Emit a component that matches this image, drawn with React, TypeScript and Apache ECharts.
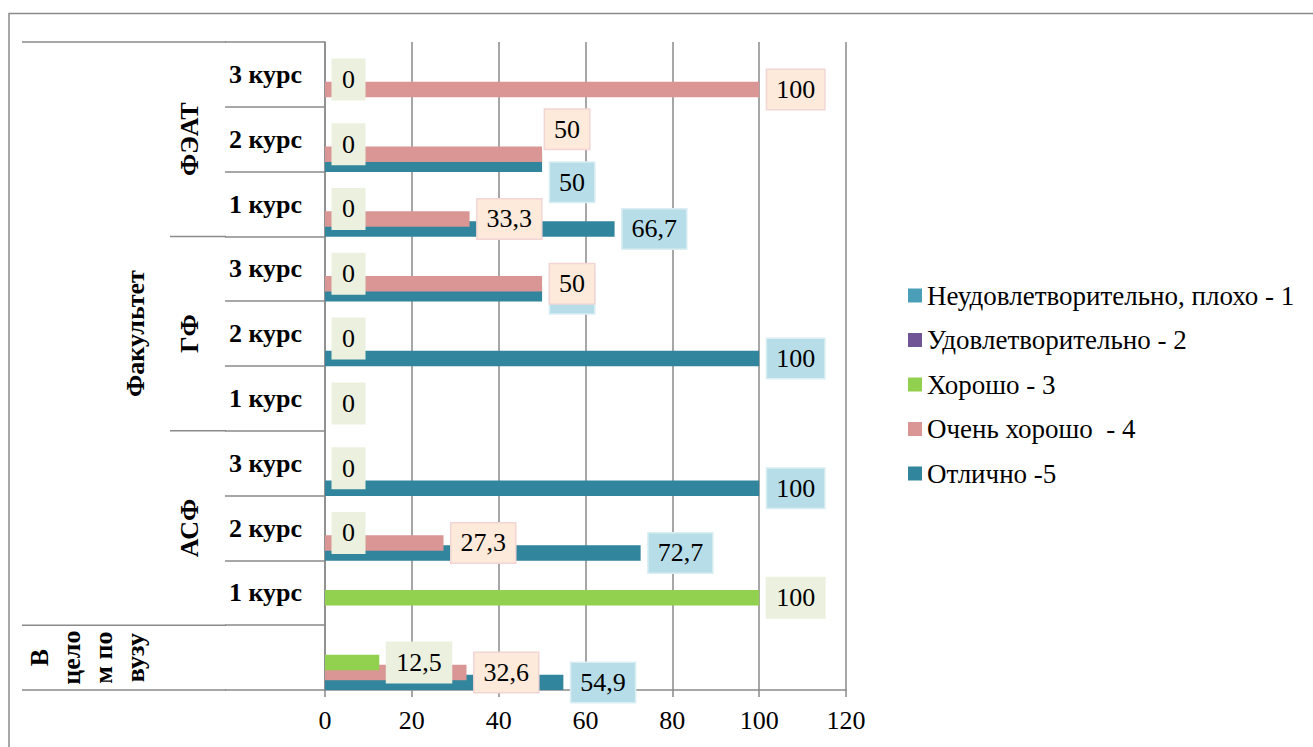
import React, { useEffect, useRef } from 'react';
import * as echarts from 'echarts';

// ---------- data ----------
const facultyNames = ['АСФ', 'ГФ', 'ФЭАТ'];
const courseNames = ['1 курс', '2 курс', '3 курс'];
const overallName = 'В целом по вузу';
const overallWrapped = ['В', 'цело', 'м по', 'вузу'];
const levelTitle = 'Факультет';
const categories = [overallName, ...facultyNames.flatMap((f) => courseNames.map((c) => `${f}|${c}`))];

const seriesNames = [
  'Неудовлетворительно, плохо - 1',
  'Удовлетворительно - 2',
  'Хорошо - 3',
  'Очень хорошо  - 4',
  'Отлично -5',
];

const unsatisfactory: (number | null)[] = [null, null, null, null, null, null, null, null, null, null];
const satisfactory: (number | null)[] = [null, null, null, null, null, null, null, null, null, null];
const good: (number | null)[] = [12.5, 100, 0, 0, 0, 0, 0, 0, 0, 0];
const veryGood: (number | null)[] = [32.6, null, 27.3, null, null, null, 50, 33.3, 50, 100];
const excellent: (number | null)[] = [54.9, null, 72.7, 100, null, 100, 50, 66.7, 50, null];

const xTicks = { min: 0, max: 120, interval: 20 };

// label nudges (layout only), keyed by series index then category index
const labelNudges: Record<number, Record<number, [number, number]>> = {
  3: { 8: [-5, -25] },
  4: { 8: [0, 18] },
};

const seriesColors = ['#4B9EB7', '#705496', '#92D050', '#D99694', '#31859C'];
const labelBg = ['#B7DEE8', '#E5DFEC', '#EBF1DE', '#FDEADA', '#B7DEE8'];
const labelBorder = ['#DAEEF3', '#E5DFEC', '#EBF1DE', '#F2D5D4', '#DAEEF3'];
const seriesZ = [2, 2, 4, 3, 2];

export default function App() {
  const ref = useRef<HTMLDivElement>(null);
  useEffect(() => {
    const chart = echarts.init(ref.current!, null, { renderer: 'svg' });
    const FONT = 'Liberation Serif';
    const GRAY = '#8a8a8a';
    const BAR_W = 15.5;
    const BAR_GAP = '-35.5%';
    const allValues = [unsatisfactory, satisfactory, good, veryGood, excellent];

    const series: any[] = [
      {
        name: '__pad',
        type: 'bar',
        data: categories.map(() => null),
        barWidth: BAR_W,
        barGap: BAR_GAP,
        silent: true,
      },
    ];
    allValues.forEach((vals, si) => {
      series.push({
        name: seriesNames[si],
        type: 'bar',
        z: seriesZ[si],
        barWidth: BAR_W,
        barGap: BAR_GAP,
        itemStyle: { color: seriesColors[si] },
        label: {
          show: true,
          position: 'right',
          distance: 8,
          fontFamily: FONT,
          fontSize: 26,
          lineHeight: 27,
          color: '#000',
          backgroundColor: labelBg[si],
          borderColor: labelBorder[si],
          borderWidth: 1.5,
          padding: [6, 9, 6, 9],
          formatter: (p: any) => String(p.value).replace('.', ','),
        },
        data: vals.map((v, i) => {
          const n = labelNudges[si]?.[i];
          return n ? { value: v, label: { offset: n } } : v;
        }),
      });
    });

    chart.setOption({
      animation: false,
      textStyle: { fontFamily: FONT },
      grid: { left: 325, top: 42, width: 521, height: 648, containLabel: false },
      legend: {
        data: seriesNames,
        orient: 'vertical',
        left: 908,
        top: 282,
        padding: 0,
        itemWidth: 14,
        itemHeight: 14,
        itemGap: 17.5,
        icon: 'rect',
        selectedMode: false,
        textStyle: { fontFamily: FONT, fontSize: 27, lineHeight: 27, color: '#000' },
      },
      xAxis: {
        type: 'value',
        min: xTicks.min,
        max: xTicks.max,
        interval: xTicks.interval,
        axisLine: { show: true, lineStyle: { color: GRAY, width: 1.5 } },
        axisTick: { show: true, length: 7, lineStyle: { color: GRAY, width: 1.5 } },
        splitLine: { show: true, lineStyle: { color: GRAY, width: 1.5 } },
        axisLabel: { fontFamily: FONT, fontSize: 26, color: '#000', margin: 17 },
      },
      yAxis: {
        type: 'category',
        data: categories,
        axisLine: { show: true, lineStyle: { color: GRAY, width: 1.5 } },
        axisTick: { show: true, length: 100, lineStyle: { color: GRAY, width: 1.5 } },
        splitLine: { show: false },
        axisLabel: {
          fontFamily: FONT,
          fontSize: 26,
          fontWeight: 'bold',
          color: '#000',
          margin: 23,
          formatter: (v: string) => (v.includes('|') ? v.split('|')[1] : ''),
        },
      },
      series,
    });

    const yAt = (i: number) => chart.convertToPixel({ yAxisIndex: 0 }, i) as unknown as number;
    const h = yAt(0) - yAt(1);
    const boundary = (b: number) => yAt(0) + h / 2 - b * h;

    const elements: any[] = [];
    elements.push({
      type: 'polyline',
      shape: { points: [[9, 800], [9, 13.5], [1330, 13.5]] },
      style: { stroke: GRAY, lineWidth: 1.5, fill: null },
      silent: true,
    });
    const extra: [number, number][] = [
      [0, 22], [1, 22], [10, 22], [4, 170], [7, 170],
    ];
    extra.forEach(([b, x0]) => {
      const y = boundary(b);
      elements.push({
        type: 'line',
        shape: { x1: x0, y1: y, x2: 226, y2: y },
        style: { stroke: GRAY, lineWidth: 1.5 },
        silent: true,
      });
    });
    const textStyle = (text: string, extraStyle: any = {}) => ({
      text,
      x: 0,
      y: 0,
      fontFamily: FONT,
      fontSize: 26,
      fontWeight: 'bold',
      fill: '#000',
      align: 'center',
      verticalAlign: 'middle',
      textAlign: 'center',
      textVerticalAlign: 'middle',
      ...extraStyle,
    });
    facultyNames.forEach((f, k) => {
      elements.push({
        type: 'text',
        x: 189,
        y: yAt(2 + 3 * k),
        rotation: Math.PI / 2,
        style: textStyle(f),
        silent: true,
      });
    });
    elements.push({
      type: 'text',
      x: 135,
      y: (yAt(1) + yAt(categories.length - 1)) / 2,
      rotation: Math.PI / 2,
      style: textStyle(levelTitle),
      silent: true,
    });
    elements.push({
      type: 'text',
      x: 87,
      y: yAt(0),
      rotation: Math.PI / 2,
      style: textStyle(overallWrapped.join('\n'), { lineHeight: 32 }),
      silent: true,
    });

    chart.setOption({ graphic: { elements } });
    return () => chart.dispose();
  }, []);
  return (
    <div
      ref={ref}
      style={{ position: 'fixed', left: 0, top: 0, width: 1313, height: 747, background: '#fff' }}
    />
  );
}
